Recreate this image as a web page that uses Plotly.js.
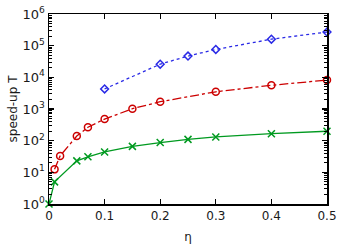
<!DOCTYPE html>
<html><head><meta charset="utf-8">
<script src="https://cdn.plot.ly/plotly-3.0.1.min.js"></script>
<style>body{margin:0}#c{width:349px;height:249px}</style>
</head><body><div id="c"></div>
<script>
const blueX = [0.1, 0.2, 0.25, 0.3, 0.4, 0.5];
const blueY = [4300, 26000, 47000, 76000, 160000, 270000];
const redX = [0.01, 0.02, 0.05, 0.07, 0.1, 0.15, 0.2, 0.3, 0.4, 0.5];
const redY = [12.4, 33, 140, 265, 480, 1020, 1700, 3500, 5600, 8200];
const greenX = [0, 0.01, 0.05, 0.07, 0.1, 0.15, 0.2, 0.25, 0.3, 0.4, 0.5];
const greenY = [1, 5, 23, 31, 44, 66, 87, 110, 131, 166, 198];
const yTickVals = [1, 10, 100, 1000, 10000, 100000, 1000000];
const yTickText = ['10<sup>0</sup>','10<sup>1</sup>','10<sup>2</sup>','10<sup>3</sup>','10<sup>4</sup>','10<sup>5</sup>','10<sup>6</sup>'];
const xTickVals = [0, 0.1, 0.2, 0.3, 0.4, 0.5];
const xTickText = ['0','0.1','0.2','0.3','0.4','0.5'];

const minorVals = [];
for (let e = 0; e < 6; e++) for (let m = 2; m <= 9; m++) minorVals.push(m * Math.pow(10, e));

const traces = [
  {x: blueX, y: blueY, mode: 'lines+markers', line: {color: '#2a2ae6', width: 1.3, dash: 'dot'},
   marker: {symbol: 'diamond-open', size: 6, color: '#2a2ae6', line: {width: 1.5}}, cliponaxis: false},
  {x: redX, y: redY, mode: 'lines+markers', line: {color: '#cc0000', width: 1.3, dash: 'dashdot'},
   marker: {symbol: 'circle-open', size: 7, color: '#cc0000', line: {width: 1.5}}, cliponaxis: false},
  {x: greenX, y: greenY, mode: 'lines+markers', line: {color: '#009a20', width: 1.3},
   marker: {symbol: 'x-thin-open', size: 7, color: '#009a20', line: {width: 1.5, color: '#009a20'}}, cliponaxis: false},
  {x: [null], y: [null], yaxis: 'y2', showlegend: false, hoverinfo: 'skip'}
];
const layout = {
  width: 349, height: 249,
  margin: {l: 49, r: 22, t: 14, b: 45},
  showlegend: false,
  paper_bgcolor: '#fff', plot_bgcolor: '#fff',
  font: {family: 'DejaVu Sans', size: 13, color: '#1a1a1a'},
  xaxis: {range: [0, 0.5], tickvals: xTickVals, ticktext: xTickText, ticks: 'inside', ticklen: 5, tickwidth: 1.2,
    showgrid: false, zeroline: false, showline: true, linecolor: '#000', linewidth: 1.5, mirror: 'ticks',
    tickcolor: '#000', tickfont: {size: 12}, title: {text: 'η', font: {size: 12}, standoff: 10}},
  yaxis: {type: 'log', range: [0, 6], tickvals: yTickVals, ticktext: yTickText, ticks: 'inside', ticklen: 5, tickwidth: 1.5,
    showgrid: false, zeroline: false, showline: true, linecolor: '#000', linewidth: 1.5, mirror: 'ticks',
    tickcolor: '#000', tickfont: {size: 13}, title: {text: 'speed-up T', font: {size: 12}, standoff: 2}},
  yaxis2: {type: 'log', range: [0, 6], overlaying: 'y', side: 'left', tickvals: minorVals, ticks: 'inside', ticklen: 3,
    tickwidth: 1, tickcolor: '#000', showticklabels: false, showgrid: false, zeroline: false, showline: false, mirror: 'ticks'}
};
Plotly.newPlot('c', traces, layout, {displayModeBar: false, staticPlot: true});
</script></body></html>
